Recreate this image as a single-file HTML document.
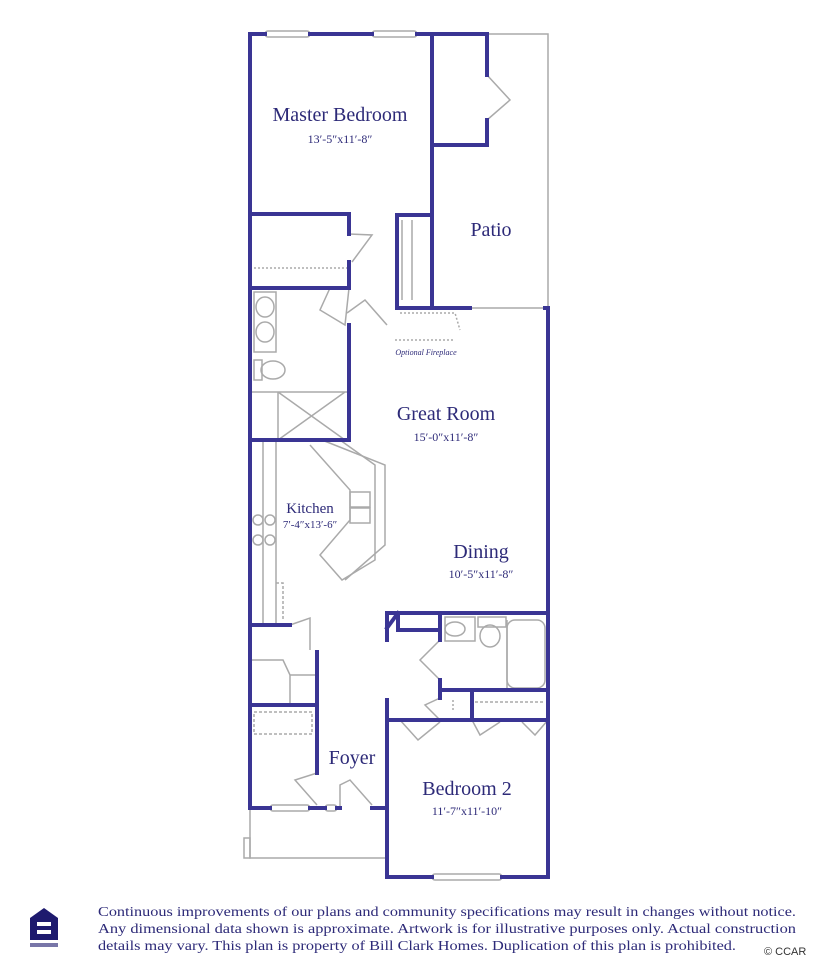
<!DOCTYPE html>
<html><head><style>
html,body{margin:0;padding:0;background:#fff;}
svg{display:block}
text{font-family:"Liberation Serif",serif;fill:#2d2a78}
</style></head><body>
<svg width="814" height="960" viewBox="0 0 814 960" xmlns="http://www.w3.org/2000/svg">
<g fill="none" stroke="#aaa" stroke-width="1.5">
 <path d="M432 34 H548 V308"/>
 <path d="M250 808 V858 H387"/>
 <rect x="265" y="31" width="45" height="6" rx="3"/>
 <rect x="372" y="31" width="45" height="6" rx="3"/>
 <rect x="270" y="805" width="40" height="6" rx="3"/>
 <rect x="325" y="805" width="12" height="6" rx="3"/>
 <rect x="432" y="874" width="70" height="6" rx="3"/>
 <path d="M487 75 L510 100 L487 120"/>
 <path d="M349 234 L372 235 L352 262"/>
 <path d="M330 288 L320 310 L345 325 L349 288"/>
 <path d="M347 313 L365 300 L387 325"/>
 <path d="M470 308 H545"/>
 <path d="M402 220 V300 M412 220 V300"/>
 <rect x="254" y="292" width="22" height="60"/>
 <ellipse cx="265" cy="307" rx="9" ry="10"/>
 <ellipse cx="265" cy="332" rx="9" ry="10"/>
 <rect x="254" y="360" width="8" height="20"/>
 <ellipse cx="273" cy="370" rx="12" ry="9"/>
 <path d="M250 392 H349 M278 392 V440 M278 392 L345 440 M345 392 L278 440"/>
 <path d="M263 440 V625 M276 440 V625"/>
 <path d="M310 445 L350 490 V520 L320 555 L342 580 L375 560 V465 L340 440"/>
 <path d="M322 440 L385 465 V545 L345 580"/>
 <rect x="350" y="492" width="20" height="15"/><rect x="350" y="508" width="20" height="15"/>
 <circle cx="258" cy="520" r="5"/><circle cx="270" cy="520" r="5"/><circle cx="258" cy="540" r="5"/><circle cx="270" cy="540" r="5"/>
 <path d="M276 583 H283 V620" stroke-dasharray="3 2"/>
 <path d="M290 625 L310 618 V650"/>
 <path d="M250 660 H283 L290 675 V705 M283 660 L290 675 H317"/>
 <rect x="254" y="712" width="58" height="22" stroke-dasharray="3 2"/>
 <path d="M317 773 L295 780 L317 805"/>
 <path d="M340 808 V785 L350 780 L372 805"/>
 <rect x="445" y="617" width="30" height="24"/><ellipse cx="455" cy="629" rx="10" ry="7"/>
 <rect x="478" y="617" width="28" height="10"/><ellipse cx="490" cy="636" rx="10" ry="11"/>
 <rect x="507" y="620" width="38" height="68" rx="8"/><line x1="507" y1="620" x2="507" y2="688"/>
 <path d="M440 640 L420 660 L440 680"/>
 <path d="M440 698 L425 705 L440 720"/>
 <path d="M400 720 L418 740 L440 722"/>
 <path d="M472 720 L480 735 L500 722 M522 722 L535 735 L548 720"/>
 <path d="M470 702 H545" stroke-dasharray="3 2"/>
 <path d="M453 700 V712" stroke-dasharray="2 2"/>
 <path d="M400 313 H455 L460 330 M395 340 H455" stroke-dasharray="2 2"/>
 <path d="M254 268 H347" stroke-dasharray="2 2"/>
 <path d="M244 838 h6 v20 h-6 z"/>
</g>
<g fill="none" stroke="#3a3594" stroke-width="4" stroke-linecap="square">
 <path d="M250 34 H265 M310 34 H372 M417 34 H487 V75 M487 120 V145 H432"/>
 <path d="M432 34 V308"/>
 <path d="M250 34 V808 H270 M310 808 H325 M337 808 H340 M372 808 H387"/>
 <path d="M250 214 H349 V234 M349 262 V288 H250"/>
 <path d="M397 308 V215 H432"/>
 <path d="M397 308 H470 M545 308 H548 V877 H502 M432 877 H387 V700"/>
 <path d="M387 640 V613 H548"/>
 <path d="M387 628 L398 613 M398 613 V630 H440 V613 M440 630 V640 M440 680 V690 H548"/>
 <path d="M440 690 V698 M440 720 H387 M440 720 H548 M472 690 V720"/>
 <path d="M349 325 V440 H250"/>
 <path d="M317 652 V773 M250 705 H317 M250 625 H290"/>
</g>
<text x="340" y="121" font-size="20" text-anchor="middle">Master Bedroom</text>
<text x="340" y="143" font-size="12" text-anchor="middle">13′-5″x11′-8″</text>
<text x="491" y="236" font-size="20" text-anchor="middle">Patio</text>
<text x="426" y="355" font-size="8" font-style="italic" text-anchor="middle">Optional Fireplace</text>
<text x="446" y="420" font-size="20" text-anchor="middle">Great Room</text>
<text x="446" y="441" font-size="12" text-anchor="middle">15′-0″x11′-8″</text>
<text x="310" y="513" font-size="15" text-anchor="middle">Kitchen</text>
<text x="310" y="528" font-size="11" text-anchor="middle">7′-4″x13′-6″</text>
<text x="481" y="558" font-size="20" text-anchor="middle">Dining</text>
<text x="481" y="578" font-size="12" text-anchor="middle">10′-5″x11′-8″</text>
<text x="352" y="764" font-size="20" text-anchor="middle">Foyer</text>
<text x="467" y="795" font-size="20" text-anchor="middle">Bedroom 2</text>
<text x="467" y="815" font-size="12" text-anchor="middle">11′-7″x11′-10″</text>
<g fill="#1e1a6e"><path d="M30 918 L44 908 L58 918 V940 H30 Z"/></g>
<rect x="37" y="922" width="14" height="4" fill="#fff"/><rect x="37" y="930" width="14" height="4" fill="#fff"/>
<rect x="30" y="943" width="28" height="4" fill="#1e1a6e" opacity="0.6"/>
<g font-size="13.5">
<text x="98" y="916" textLength="698" lengthAdjust="spacingAndGlyphs">Continuous improvements of our plans and community specifications may result in changes without notice.</text>
<text x="98" y="933" textLength="698" lengthAdjust="spacingAndGlyphs">Any dimensional data shown is approximate. Artwork is for illustrative purposes only. Actual construction</text>
<text x="98" y="950" textLength="638" lengthAdjust="spacingAndGlyphs">details may vary. This plan is property of Bill Clark Homes. Duplication of this plan is prohibited.</text>
</g>
<text x="764" y="955" font-size="11" style="font-family:'Liberation Sans',sans-serif;fill:#333">© CCAR</text>
</svg>
</body></html>
